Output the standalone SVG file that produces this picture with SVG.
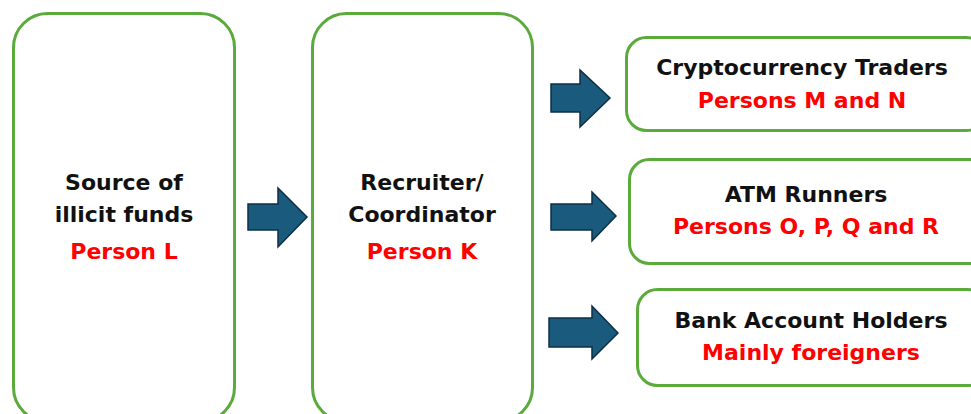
<svg xmlns="http://www.w3.org/2000/svg" width="971" height="414" viewBox="0 0 971 414">
<style>
.box{fill:#fff;stroke:#5BAA3C;stroke-width:3}
.t{font-family:"DejaVu Sans","Liberation Sans",sans-serif;font-weight:bold;font-size:22px;text-anchor:middle;fill:#111}
.r{fill:#FF0000}
.arr{fill:#1A5A7C;stroke:#0E2F45;stroke-width:1.5;stroke-linejoin:miter}
</style>
<rect width="971" height="414" fill="#fff"/>
<g id="source">
<rect class="box" x="13.5" y="13.5" width="221" height="408" rx="34"/>
<text class="t" x="124" y="190">Source of</text>
<text class="t" x="124" y="222">illicit funds</text>
<text class="t r" x="124" y="259">Person L</text>
</g>
<g id="recruiter">
<rect class="box" x="312.5" y="13.5" width="220" height="408" rx="34"/>
<text class="t" x="422" y="190">Recruiter/</text>
<text class="t" x="422" y="222">Coordinator</text>
<text class="t r" x="422" y="259">Person K</text>
</g>
<g id="crypto">
<rect class="box" x="626.5" y="37.5" width="360" height="93" rx="20"/>
<text class="t" x="802" y="75">Cryptocurrency Traders</text>
<text class="t r" x="802" y="108">Persons M and N</text>
</g>
<g id="atm">
<rect class="box" x="629.5" y="159.5" width="360" height="104" rx="20"/>
<text class="t" x="806" y="202">ATM Runners</text>
<text class="t r" x="806" y="234">Persons O, P, Q and R</text>
</g>
<g id="bank">
<rect class="box" x="637.5" y="289.5" width="350" height="96" rx="20"/>
<text class="t" x="811" y="328">Bank Account Holders</text>
<text class="t r" x="811" y="360">Mainly foreigners</text>
</g>
<g id="connectors">
<polygon class="arr" points="248,204 278,204 278,188 307,217 278,247 278,230 248,230"/>
<polygon class="arr" points="551,84 580,84 580,70 610,98 580,127 580,112 551,112"/>
<polygon class="arr" points="551,204 592,204 592,192 616,216 592,241 592,230 551,230"/>
<polygon class="arr" points="549,318 592,318 592,306 618,333 592,359 592,347 549,347"/>
</g>
</svg>
